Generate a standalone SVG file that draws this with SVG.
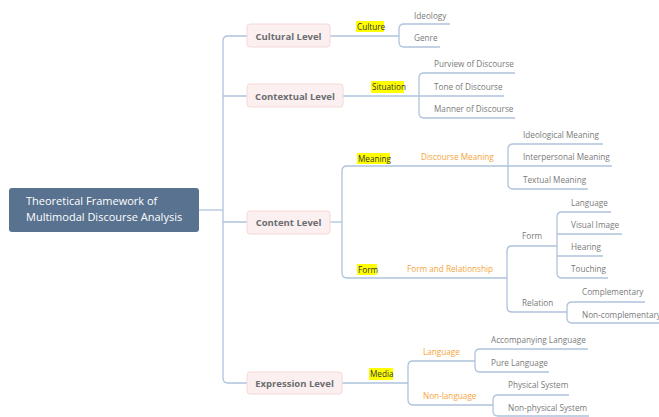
<svg xmlns="http://www.w3.org/2000/svg" width="659" height="417" viewBox="0 0 659 417">
<style>
.c{fill:none;stroke:#aec3dc;stroke-width:1.3}
.lvl rect{fill:#fcefef;stroke:#f6d8d8;stroke-width:1}
.lvl text{font-family:"Open Sans","Liberation Sans",sans-serif;font-size:9.5px;font-weight:bold;fill:#6a6d72}
.t{font-family:"Open Sans","Liberation Sans",sans-serif;font-size:8.2px;fill:#7a7a7a}
.o{font-family:"Open Sans","Liberation Sans",sans-serif;font-size:8.2px;fill:#f5a33c}
.h{fill:#ffff00}
.hl{font-family:"Open Sans","Liberation Sans",sans-serif;font-size:8.2px;fill:#333}
</style>
<rect width="659" height="417" fill="#fff"/>
<g id="connectors">
<path class="c" d="M199,210 H223"/>
<path class="c" d="M247,36 H228 Q223,36 223,41 V378 Q223,383 228,383 H247"/>
<path class="c" d="M223,96 H247 M223,222 H247"/>
<path class="c" d="M330,36 H399"/>
<path class="c" d="M450,24 H404 Q399,24 399,29 V42 Q399,47 404,47 H440"/>
<path class="c" d="M343,96 H419"/>
<path class="c" d="M515,73 H424 Q419,73 419,78 V113 Q419,118 424,118 H515 M419,96 H504"/>
<path class="c" d="M330,222 H342"/>
<path class="c" d="M508,166 H347 Q342,166 342,171 V273 Q342,278 347,278 H507"/>
<path class="c" d="M603,144 H513 Q508,144 508,149 V184 Q508,189 513,189 H588 M508,166 H612"/>
<path class="c" d="M557,246 H512 Q507,246 507,251 V307 Q507,312 512,312 H567"/>
<path class="c" d="M611,212 H562 Q557,212 557,217 V273 Q557,278 562,278 H608 M557,234 H622 M557,256 H603"/>
<path class="c" d="M645,302 H572 Q567,302 567,307 V318 Q567,323 572,323 H659"/>
<path class="c" d="M342,383 H408"/>
<path class="c" d="M475,361 H413 Q408,361 408,366 V400 Q408,405 413,405 H493"/>
<path class="c" d="M588,349 H480 Q475,349 475,354 V367 Q475,372 480,372 H549"/>
<path class="c" d="M569,395 H498 Q493,395 493,400 V411 Q493,416 498,416 H589"/>
</g>
<g id="root">
<rect x="9" y="188" width="190" height="44" rx="3" fill="#58728f"/>
<text font-family="'Open Sans','Liberation Sans',sans-serif" font-size="11" fill="#ffffff"><tspan x="26" y="205">Theoretical Framework of</tspan><tspan x="26" y="221">Multimodal Discourse Analysis</tspan></text>
</g>
<g id="cultural" class="lvl"><rect x="247" y="24" width="83" height="23" rx="3"/><text x="288.5" y="39.5" text-anchor="middle">Cultural Level</text></g>
<g id="contextual" class="lvl"><rect x="247" y="84" width="96" height="23" rx="3"/><text x="295" y="99.5" text-anchor="middle">Contextual Level</text></g>
<g id="content" class="lvl"><rect x="247" y="211" width="83" height="23" rx="3"/><text x="288.5" y="226" text-anchor="middle">Content Level</text></g>
<g id="expression" class="lvl"><rect x="247" y="372" width="95" height="22" rx="3"/><text x="294.5" y="387" text-anchor="middle">Expression Level</text></g>
<g id="culture"><rect class="h" x="356" y="21" width="28" height="11"/><text class="hl" x="357" y="30">Culture</text></g>
<g id="ideology"><text class="t" x="414" y="19">Ideology</text></g>
<g id="genre"><text class="t" x="414" y="41">Genre</text></g>
<g id="situation"><rect class="h" x="371" y="81" width="33" height="12"/><text class="hl" x="372" y="90">Situation</text></g>
<g id="purview"><text class="t" x="434" y="67">Purview of Discourse</text></g>
<g id="tone"><text class="t" x="434" y="90">Tone of Discourse</text></g>
<g id="manner"><text class="t" x="434" y="112">Manner of Discourse</text></g>
<g id="meaning"><rect class="h" x="357" y="153" width="33" height="11"/><text class="hl" x="358" y="161.5">Meaning</text></g>
<g id="discourse-meaning"><text class="o" x="421" y="160">Discourse Meaning</text></g>
<g id="ideological"><text class="t" x="523" y="138">Ideological Meaning</text></g>
<g id="interpersonal"><text class="t" x="523" y="160">Interpersonal Meaning</text></g>
<g id="textual"><text class="t" x="523" y="183">Textual Meaning</text></g>
<g id="form"><rect class="h" x="357" y="264" width="20" height="11"/><text class="hl" x="358" y="272.5">Form</text></g>
<g id="form-relationship"><text class="o" x="407" y="272">Form and Relationship</text></g>
<g id="form2"><text class="t" x="522" y="239">Form</text></g>
<g id="language"><text class="t" x="571" y="206">Language</text></g>
<g id="visual"><text class="t" x="571" y="228">Visual Image</text></g>
<g id="hearing"><text class="t" x="571" y="250">Hearing</text></g>
<g id="touching"><text class="t" x="571" y="272">Touching</text></g>
<g id="relation"><text class="t" x="522" y="306">Relation</text></g>
<g id="complementary"><text class="t" x="582" y="295">Complementary</text></g>
<g id="noncomplementary"><text class="t" x="582" y="318">Non-complementary</text></g>
<g id="media"><rect class="h" x="369" y="368" width="24" height="12"/><text class="hl" x="370" y="377">Media</text></g>
<g id="language2"><text class="o" x="423" y="355">Language</text></g>
<g id="nonlanguage"><text class="o" x="423" y="399">Non-language</text></g>
<g id="accompanying"><text class="t" x="491" y="343">Accompanying Language</text></g>
<g id="pure"><text class="t" x="491" y="366">Pure Language</text></g>
<g id="physical"><text class="t" x="508" y="388">Physical System</text></g>
<g id="nonphysical"><text class="t" x="508" y="411">Non-physical System</text></g>
</svg>
